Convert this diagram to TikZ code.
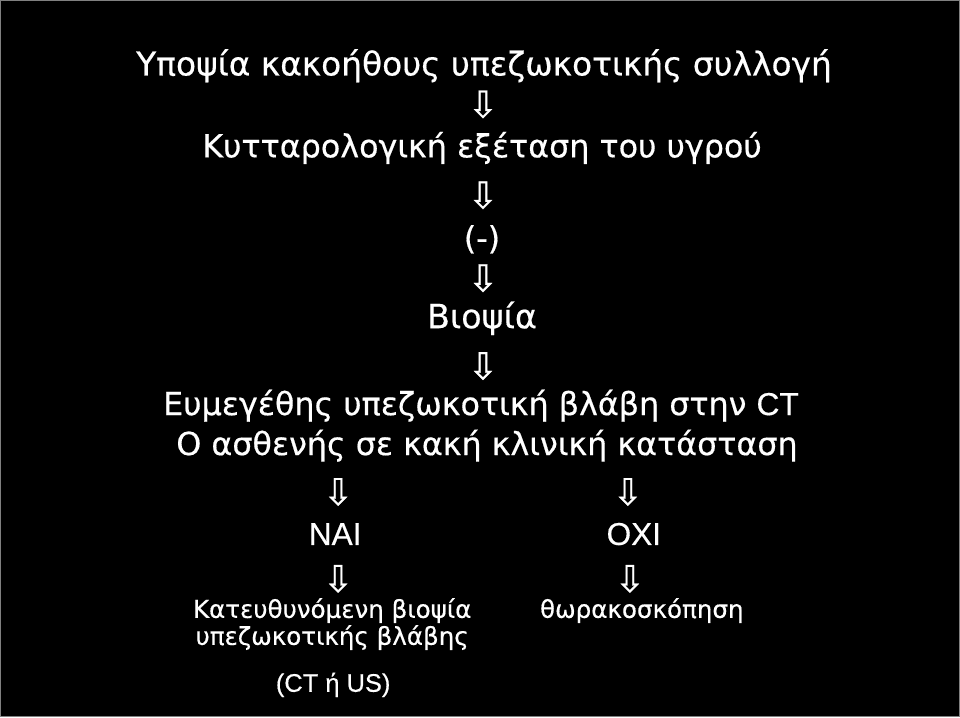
\documentclass[tikz,border=0pt]{standalone}
\usepackage{fontspec}
\setmainfont{DejaVu Sans}
\newfontfamily\medfont{DejaVu Sans}[FakeBold=0.5]
\newfontfamily\arialfont{Liberation Sans}[FakeBold=0.4]
\usepackage{tikz}
\definecolor{bg}{HTML}{000000}
\definecolor{txt}{HTML}{FFFFFF}
\tikzset{
  lab/.style={text=txt, anchor=base, inner sep=0pt, font=\medfont\fontsize{18.1}{21}\selectfont},
  big/.style={lab, font=\medfont\fontsize{18.7}{22}\selectfont},
  small/.style={lab, font=\medfont\fontsize{14}{17}\selectfont},
  yesno/.style={lab, font=\arialfont\fontsize{18}{21}\selectfont},
  arr/.style={text=txt, anchor=center, inner sep=0pt, font=\medfont\fontsize{21}{24}\selectfont}
}

\begin{document}
\begin{tikzpicture}[x=0.02cm, y=-0.02cm]
\fill[bg] (0,0) rectangle (960,717);
\draw[gray, line width=0.6pt] (0,0) rectangle (960,717);
\useasboundingbox (0,0) rectangle (960,717);

% main column
\node[big] (susp) at (484,75) {Υποψία κακοήθους υπεζωκοτικής συλλογή};
\node[arr] (a1) at (483,104) {⇩};
\node[lab] (cyto) at (482,157) {Κυτταρολογική εξέταση του υγρού};
\node[arr] (a2) at (483,195) {⇩};
\node[lab] (neg) at (482,249) {(-)};
\node[arr] (a3) at (483,278) {⇩};
\node[lab, font=\medfont\fontsize{19}{22}\selectfont] (biop) at (482,328) {Βιοψία};
\node[arr] (a4) at (483,366) {⇩};
\node[lab] (lesion) at (481,415) {Ευμεγέθης υπεζωκοτική βλάβη στην {\arialfont CT}};
\node[lab] (state) at (487,455) {Ο ασθενής σε κακή κλινική κατάσταση};

% two branches
\node[arr] (ay1) at (338,492) {⇩};
\node[arr] (an1) at (628,492) {⇩};
\node[yesno] (yes) at (335,545) {ΝΑΙ};
\node[yesno] (no) at (634,545) {ΟΧΙ};
\node[arr] (ay2) at (338,579) {⇩};
\node[arr] (an2) at (630,579) {⇩};
\node[small] (guided1) at (332,618) {Κατευθυνόμενη βιοψία};
\node[small] (guided2) at (332,645) {υπεζωκοτικής βλάβης};
\node[small, font=\arialfont\fontsize{14.5}{17}\selectfont] (modal) at (333,692) {(CT ή US)};
\node[small] (thor) at (642,618) {θωρακοσκόπηση};
\end{tikzpicture}
\end{document}
